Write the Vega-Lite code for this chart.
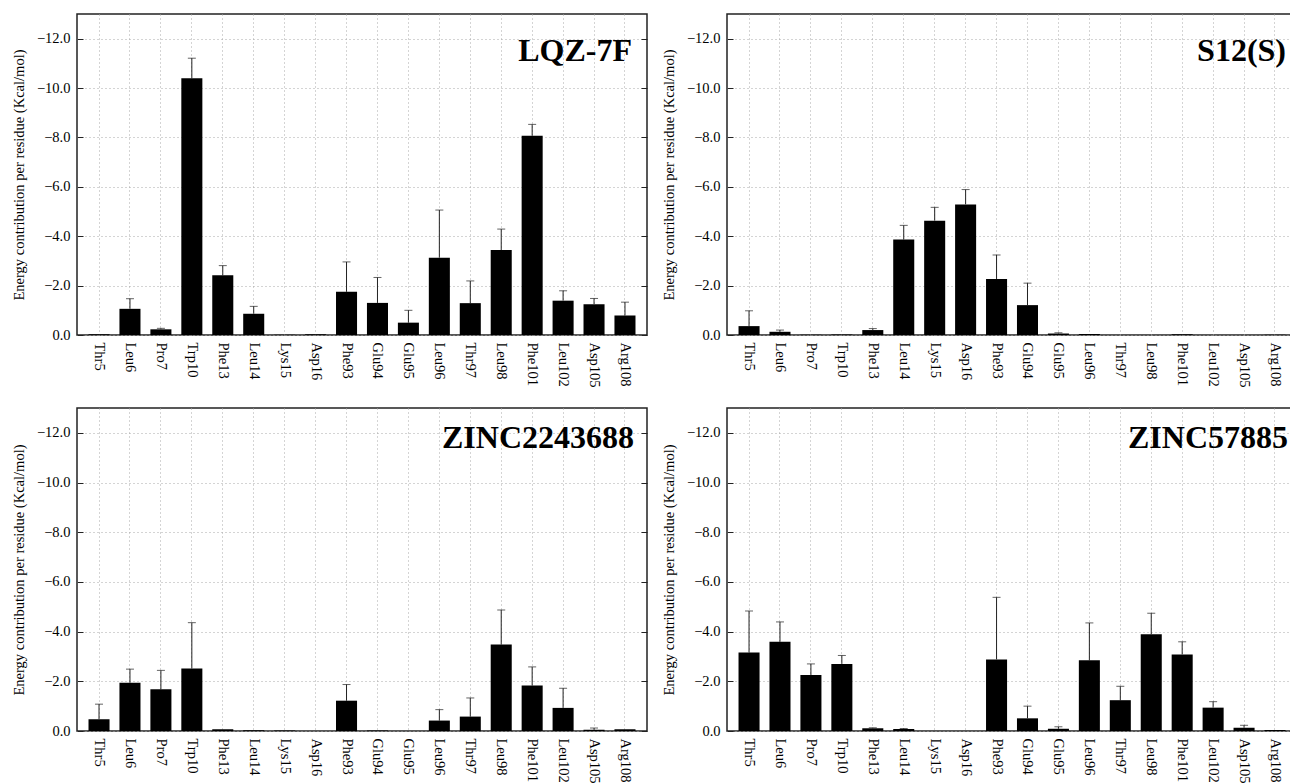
{
  "$schema": "https://vega.github.io/schema/vega-lite/v6.json",
  "background": "white",
  "padding": {"left": 10, "top": 13, "right": 0, "bottom": 0},
  "datasets": {
    "d": [
      {"p": "LQZ-7F", "r": "Thr5", "e": -0.03, "err": null},
      {"p": "LQZ-7F", "r": "Leu6", "e": -1.06, "err": -1.47},
      {"p": "LQZ-7F", "r": "Pro7", "e": -0.23, "err": -0.27},
      {"p": "LQZ-7F", "r": "Trp10", "e": -10.40, "err": -11.21},
      {"p": "LQZ-7F", "r": "Phe13", "e": -2.42, "err": -2.81},
      {"p": "LQZ-7F", "r": "Leu14", "e": -0.86, "err": -1.16},
      {"p": "LQZ-7F", "r": "Lys15", "e": -0.01, "err": null},
      {"p": "LQZ-7F", "r": "Asp16", "e": -0.03, "err": null},
      {"p": "LQZ-7F", "r": "Phe93", "e": -1.75, "err": -2.96},
      {"p": "LQZ-7F", "r": "Glu94", "e": -1.30, "err": -2.33},
      {"p": "LQZ-7F", "r": "Glu95", "e": -0.50, "err": -1.00},
      {"p": "LQZ-7F", "r": "Leu96", "e": -3.13, "err": -5.06},
      {"p": "LQZ-7F", "r": "Thr97", "e": -1.29, "err": -2.19},
      {"p": "LQZ-7F", "r": "Leu98", "e": -3.44, "err": -4.29},
      {"p": "LQZ-7F", "r": "Phe101", "e": -8.07, "err": -8.53},
      {"p": "LQZ-7F", "r": "Leu102", "e": -1.39, "err": -1.79},
      {"p": "LQZ-7F", "r": "Asp105", "e": -1.25, "err": -1.48},
      {"p": "LQZ-7F", "r": "Arg108", "e": -0.79, "err": -1.33},

      {"p": "S12(S)", "r": "Thr5", "e": -0.36, "err": -0.98},
      {"p": "S12(S)", "r": "Leu6", "e": -0.13, "err": -0.20},
      {"p": "S12(S)", "r": "Pro7", "e": -0.01, "err": null},
      {"p": "S12(S)", "r": "Trp10", "e": -0.02, "err": null},
      {"p": "S12(S)", "r": "Phe13", "e": -0.20, "err": -0.26},
      {"p": "S12(S)", "r": "Leu14", "e": -3.87, "err": -4.44},
      {"p": "S12(S)", "r": "Lys15", "e": -4.63, "err": -5.17},
      {"p": "S12(S)", "r": "Asp16", "e": -5.29, "err": -5.89},
      {"p": "S12(S)", "r": "Phe93", "e": -2.27, "err": -3.24},
      {"p": "S12(S)", "r": "Glu94", "e": -1.21, "err": -2.10},
      {"p": "S12(S)", "r": "Glu95", "e": -0.06, "err": -0.09},
      {"p": "S12(S)", "r": "Leu96", "e": -0.04, "err": null},
      {"p": "S12(S)", "r": "Thr97", "e": 0, "err": null},
      {"p": "S12(S)", "r": "Leu98", "e": 0, "err": null},
      {"p": "S12(S)", "r": "Phe101", "e": -0.03, "err": null},
      {"p": "S12(S)", "r": "Leu102", "e": 0, "err": null},
      {"p": "S12(S)", "r": "Asp105", "e": 0, "err": null},
      {"p": "S12(S)", "r": "Arg108", "e": -0.01, "err": null},

      {"p": "ZINC2243688", "r": "Thr5", "e": -0.47, "err": -1.08},
      {"p": "ZINC2243688", "r": "Leu6", "e": -1.94, "err": -2.49},
      {"p": "ZINC2243688", "r": "Pro7", "e": -1.68, "err": -2.44},
      {"p": "ZINC2243688", "r": "Trp10", "e": -2.52, "err": -4.36},
      {"p": "ZINC2243688", "r": "Phe13", "e": -0.07, "err": null},
      {"p": "ZINC2243688", "r": "Leu14", "e": -0.03, "err": null},
      {"p": "ZINC2243688", "r": "Lys15", "e": -0.02, "err": null},
      {"p": "ZINC2243688", "r": "Asp16", "e": 0, "err": null},
      {"p": "ZINC2243688", "r": "Phe93", "e": -1.22, "err": -1.87},
      {"p": "ZINC2243688", "r": "Glu94", "e": -0.02, "err": null},
      {"p": "ZINC2243688", "r": "Glu95", "e": 0, "err": null},
      {"p": "ZINC2243688", "r": "Leu96", "e": -0.42, "err": -0.86},
      {"p": "ZINC2243688", "r": "Thr97", "e": -0.58, "err": -1.33},
      {"p": "ZINC2243688", "r": "Leu98", "e": -3.48, "err": -4.87},
      {"p": "ZINC2243688", "r": "Phe101", "e": -1.83, "err": -2.58},
      {"p": "ZINC2243688", "r": "Leu102", "e": -0.93, "err": -1.72},
      {"p": "ZINC2243688", "r": "Asp105", "e": -0.05, "err": -0.12},
      {"p": "ZINC2243688", "r": "Arg108", "e": -0.07, "err": null},

      {"p": "ZINC57885", "r": "Thr5", "e": -3.16, "err": -4.83},
      {"p": "ZINC57885", "r": "Leu6", "e": -3.59, "err": -4.39},
      {"p": "ZINC57885", "r": "Pro7", "e": -2.25, "err": -2.70},
      {"p": "ZINC57885", "r": "Trp10", "e": -2.70, "err": -3.04},
      {"p": "ZINC57885", "r": "Phe13", "e": -0.11, "err": -0.13},
      {"p": "ZINC57885", "r": "Leu14", "e": -0.08, "err": -0.10},
      {"p": "ZINC57885", "r": "Lys15", "e": 0, "err": null},
      {"p": "ZINC57885", "r": "Asp16", "e": 0, "err": null},
      {"p": "ZINC57885", "r": "Phe93", "e": -2.88, "err": -5.38},
      {"p": "ZINC57885", "r": "Glu94", "e": -0.51, "err": -1.00},
      {"p": "ZINC57885", "r": "Glu95", "e": -0.09, "err": -0.17},
      {"p": "ZINC57885", "r": "Leu96", "e": -2.85, "err": -4.35},
      {"p": "ZINC57885", "r": "Thr97", "e": -1.24, "err": -1.80},
      {"p": "ZINC57885", "r": "Leu98", "e": -3.89, "err": -4.74},
      {"p": "ZINC57885", "r": "Phe101", "e": -3.08, "err": -3.59},
      {"p": "ZINC57885", "r": "Leu102", "e": -0.94, "err": -1.18},
      {"p": "ZINC57885", "r": "Asp105", "e": -0.13, "err": -0.23},
      {"p": "ZINC57885", "r": "Arg108", "e": -0.04, "err": null}
    ]
  },
  "spacing": 19,
  "vconcat": [
    {
      "spacing": 11,
      "hconcat": [
        {
          "width": 570, "height": 321,
          "data": {"name": "d"},
          "transform": [{"filter": "datum.p === 'LQZ-7F'"}],
          "title": {"text": "LQZ-7F", "dx": -15, "offset": -54},
          "layer": [
            {"mark": {"type": "bar", "color": "black"},
             "encoding": {
               "x": {"field": "r", "type": "nominal", "sort": ["Thr5","Leu6","Pro7","Trp10","Phe13","Leu14","Lys15","Asp16","Phe93","Glu94","Glu95","Leu96","Thr97","Leu98","Phe101","Leu102","Asp105","Arg108"],
                     "scale": {"paddingInner": 0.32, "paddingOuter": 0.372},
                     "axis": {"title": null, "labelAngle": 90, "ticks": false, "grid": true, "bandPosition": 0.5, "labelPadding": 7, "labelFont": "Liberation Serif", "labelFontSize": 14.5, "labelColor": "black", "gridColor": "#a8a8a8", "gridDash": [1, 3], "domain": false}},
               "y": {"field": "e", "type": "quantitative", "scale": {"domain": [0, -13], "nice": false, "zero": false},
                     "axis": {"title": "Energy contribution per residue (Kcal/mol)", "values": [-12,-10,-8,-6,-4,-2,0], "format": ".1f", "tickSize": -6, "tickColor": "#222", "labelPadding": 13, "titlePadding": 10, "grid": true, "gridColor": "#a8a8a8", "gridDash": [1, 3], "domain": false, "labelFont": "Liberation Serif", "labelFontSize": 14.5, "labelColor": "black", "titleFont": "Liberation Serif", "titleFontSize": 14.5, "titleFontWeight": "normal", "titleColor": "black"}}
             }},
            {"transform": [{"filter": "datum.err != null"}],
             "mark": {"type": "rule", "color": "#222", "strokeWidth": 1},
             "encoding": {
               "x": {"field": "r", "type": "nominal", "sort": ["Thr5","Leu6","Pro7","Trp10","Phe13","Leu14","Lys15","Asp16","Phe93","Glu94","Glu95","Leu96","Thr97","Leu98","Phe101","Leu102","Asp105","Arg108"]},
               "y": {"field": "e", "type": "quantitative", "axis": null},
               "y2": {"field": "err"}
             }},
            {"transform": [{"filter": "datum.err != null"}],
             "mark": {"type": "tick", "color": "#222", "size": 8, "thickness": 1},
             "encoding": {
               "x": {"field": "r", "type": "nominal", "sort": ["Thr5","Leu6","Pro7","Trp10","Phe13","Leu14","Lys15","Asp16","Phe93","Glu94","Glu95","Leu96","Thr97","Leu98","Phe101","Leu102","Asp105","Arg108"]},
               "y": {"field": "err", "type": "quantitative", "axis": null}
             }},
            {"mark": {"type": "rule", "opacity": 0},
             "encoding": {
               "y": {"field": "e", "type": "quantitative",
                     "axis": {"orient": "right", "labels": false, "grid": false, "domain": false, "title": null, "values": [-12,-10,-8,-6,-4,-2,0], "tickSize": -6, "tickColor": "#222"}}
             }}
          ],
          "resolve": {"axis": {"y": "independent"}}
        },
        {
          "width": 565, "height": 321,
          "data": {"name": "d"},
          "transform": [{"filter": "datum.p === 'S12(S)'"}],
          "title": {"text": "S12(S)", "dx": -6, "offset": -54},
          "layer": [
            {"mark": {"type": "bar", "color": "black"},
             "encoding": {
               "x": {"field": "r", "type": "nominal", "sort": ["Thr5","Leu6","Pro7","Trp10","Phe13","Leu14","Lys15","Asp16","Phe93","Glu94","Glu95","Leu96","Thr97","Leu98","Phe101","Leu102","Asp105","Arg108"],
                     "scale": {"paddingInner": 0.32, "paddingOuter": 0.291, "align": 0.64},
                     "axis": {"title": null, "labelAngle": 90, "ticks": false, "grid": true, "bandPosition": 0.5, "labelPadding": 7, "labelFont": "Liberation Serif", "labelFontSize": 14.5, "labelColor": "black", "gridColor": "#a8a8a8", "gridDash": [1, 3], "domain": false}},
               "y": {"field": "e", "type": "quantitative", "scale": {"domain": [0, -13], "nice": false, "zero": false},
                     "axis": {"title": "Energy contribution per residue (Kcal/mol)", "values": [-12,-10,-8,-6,-4,-2,0], "format": ".1f", "tickSize": -6, "tickColor": "#222", "labelPadding": 13, "titlePadding": 10, "grid": true, "gridColor": "#a8a8a8", "gridDash": [1, 3], "domain": false, "labelFont": "Liberation Serif", "labelFontSize": 14.5, "labelColor": "black", "titleFont": "Liberation Serif", "titleFontSize": 14.5, "titleFontWeight": "normal", "titleColor": "black"}}
             }},
            {"transform": [{"filter": "datum.err != null"}],
             "mark": {"type": "rule", "color": "#222", "strokeWidth": 1},
             "encoding": {
               "x": {"field": "r", "type": "nominal", "sort": ["Thr5","Leu6","Pro7","Trp10","Phe13","Leu14","Lys15","Asp16","Phe93","Glu94","Glu95","Leu96","Thr97","Leu98","Phe101","Leu102","Asp105","Arg108"]},
               "y": {"field": "e", "type": "quantitative", "axis": null},
               "y2": {"field": "err"}
             }},
            {"transform": [{"filter": "datum.err != null"}],
             "mark": {"type": "tick", "color": "#222", "size": 8, "thickness": 1},
             "encoding": {
               "x": {"field": "r", "type": "nominal", "sort": ["Thr5","Leu6","Pro7","Trp10","Phe13","Leu14","Lys15","Asp16","Phe93","Glu94","Glu95","Leu96","Thr97","Leu98","Phe101","Leu102","Asp105","Arg108"]},
               "y": {"field": "err", "type": "quantitative", "axis": null}
             }}
          ],
          "resolve": {"axis": {"y": "independent"}}
        }
      ]
    },
    {
      "spacing": 11,
      "hconcat": [
        {
          "width": 570, "height": 323,
          "data": {"name": "d"},
          "transform": [{"filter": "datum.p === 'ZINC2243688'"}],
          "title": {"text": "ZINC2243688", "dx": -13, "offset": -47},
          "layer": [
            {"mark": {"type": "bar", "color": "black"},
             "encoding": {
               "x": {"field": "r", "type": "nominal", "sort": ["Thr5","Leu6","Pro7","Trp10","Phe13","Leu14","Lys15","Asp16","Phe93","Glu94","Glu95","Leu96","Thr97","Leu98","Phe101","Leu102","Asp105","Arg108"],
                     "scale": {"paddingInner": 0.32, "paddingOuter": 0.372},
                     "axis": {"title": null, "labelAngle": 90, "ticks": false, "grid": true, "bandPosition": 0.5, "labelPadding": 7, "labelFont": "Liberation Serif", "labelFontSize": 14.5, "labelColor": "black", "gridColor": "#a8a8a8", "gridDash": [1, 3], "domain": false}},
               "y": {"field": "e", "type": "quantitative", "scale": {"domain": [0, -13], "nice": false, "zero": false},
                     "axis": {"title": "Energy contribution per residue (Kcal/mol)", "values": [-12,-10,-8,-6,-4,-2,0], "format": ".1f", "tickSize": -6, "tickColor": "#222", "labelPadding": 13, "titlePadding": 10, "grid": true, "gridColor": "#a8a8a8", "gridDash": [1, 3], "domain": false, "labelFont": "Liberation Serif", "labelFontSize": 14.5, "labelColor": "black", "titleFont": "Liberation Serif", "titleFontSize": 14.5, "titleFontWeight": "normal", "titleColor": "black"}}
             }},
            {"transform": [{"filter": "datum.err != null"}],
             "mark": {"type": "rule", "color": "#222", "strokeWidth": 1},
             "encoding": {
               "x": {"field": "r", "type": "nominal", "sort": ["Thr5","Leu6","Pro7","Trp10","Phe13","Leu14","Lys15","Asp16","Phe93","Glu94","Glu95","Leu96","Thr97","Leu98","Phe101","Leu102","Asp105","Arg108"]},
               "y": {"field": "e", "type": "quantitative", "axis": null},
               "y2": {"field": "err"}
             }},
            {"transform": [{"filter": "datum.err != null"}],
             "mark": {"type": "tick", "color": "#222", "size": 8, "thickness": 1},
             "encoding": {
               "x": {"field": "r", "type": "nominal", "sort": ["Thr5","Leu6","Pro7","Trp10","Phe13","Leu14","Lys15","Asp16","Phe93","Glu94","Glu95","Leu96","Thr97","Leu98","Phe101","Leu102","Asp105","Arg108"]},
               "y": {"field": "err", "type": "quantitative", "axis": null}
             }},
            {"mark": {"type": "rule", "opacity": 0},
             "encoding": {
               "y": {"field": "e", "type": "quantitative",
                     "axis": {"orient": "right", "labels": false, "grid": false, "domain": false, "title": null, "values": [-12,-10,-8,-6,-4,-2,0], "tickSize": -6, "tickColor": "#222"}}
             }}
          ],
          "resolve": {"axis": {"y": "independent"}}
        },
        {
          "width": 565, "height": 323,
          "data": {"name": "d"},
          "transform": [{"filter": "datum.p === 'ZINC57885'"}],
          "title": {"text": "ZINC57885", "dx": -4, "offset": -47},
          "layer": [
            {"mark": {"type": "bar", "color": "black"},
             "encoding": {
               "x": {"field": "r", "type": "nominal", "sort": ["Thr5","Leu6","Pro7","Trp10","Phe13","Leu14","Lys15","Asp16","Phe93","Glu94","Glu95","Leu96","Thr97","Leu98","Phe101","Leu102","Asp105","Arg108"],
                     "scale": {"paddingInner": 0.32, "paddingOuter": 0.291, "align": 0.64},
                     "axis": {"title": null, "labelAngle": 90, "ticks": false, "grid": true, "bandPosition": 0.5, "labelPadding": 7, "labelFont": "Liberation Serif", "labelFontSize": 14.5, "labelColor": "black", "gridColor": "#a8a8a8", "gridDash": [1, 3], "domain": false}},
               "y": {"field": "e", "type": "quantitative", "scale": {"domain": [0, -13], "nice": false, "zero": false},
                     "axis": {"title": "Energy contribution per residue (Kcal/mol)", "values": [-12,-10,-8,-6,-4,-2,0], "format": ".1f", "tickSize": -6, "tickColor": "#222", "labelPadding": 13, "titlePadding": 10, "grid": true, "gridColor": "#a8a8a8", "gridDash": [1, 3], "domain": false, "labelFont": "Liberation Serif", "labelFontSize": 14.5, "labelColor": "black", "titleFont": "Liberation Serif", "titleFontSize": 14.5, "titleFontWeight": "normal", "titleColor": "black"}}
             }},
            {"transform": [{"filter": "datum.err != null"}],
             "mark": {"type": "rule", "color": "#222", "strokeWidth": 1},
             "encoding": {
               "x": {"field": "r", "type": "nominal", "sort": ["Thr5","Leu6","Pro7","Trp10","Phe13","Leu14","Lys15","Asp16","Phe93","Glu94","Glu95","Leu96","Thr97","Leu98","Phe101","Leu102","Asp105","Arg108"]},
               "y": {"field": "e", "type": "quantitative", "axis": null},
               "y2": {"field": "err"}
             }},
            {"transform": [{"filter": "datum.err != null"}],
             "mark": {"type": "tick", "color": "#222", "size": 8, "thickness": 1},
             "encoding": {
               "x": {"field": "r", "type": "nominal", "sort": ["Thr5","Leu6","Pro7","Trp10","Phe13","Leu14","Lys15","Asp16","Phe93","Glu94","Glu95","Leu96","Thr97","Leu98","Phe101","Leu102","Asp105","Arg108"]},
               "y": {"field": "err", "type": "quantitative", "axis": null}
             }}
          ],
          "resolve": {"axis": {"y": "independent"}}
        }
      ]
    }
  ],
  "config": {
    "font": "Liberation Serif",
    "view": {"stroke": "#222", "strokeWidth": 1.5},
    "title": {
      "font": "Liberation Serif", "fontSize": 32, "fontWeight": "bold", "color": "black",
      "anchor": "end", "frame": "group", "baseline": "alphabetic"
    }
  }
}
